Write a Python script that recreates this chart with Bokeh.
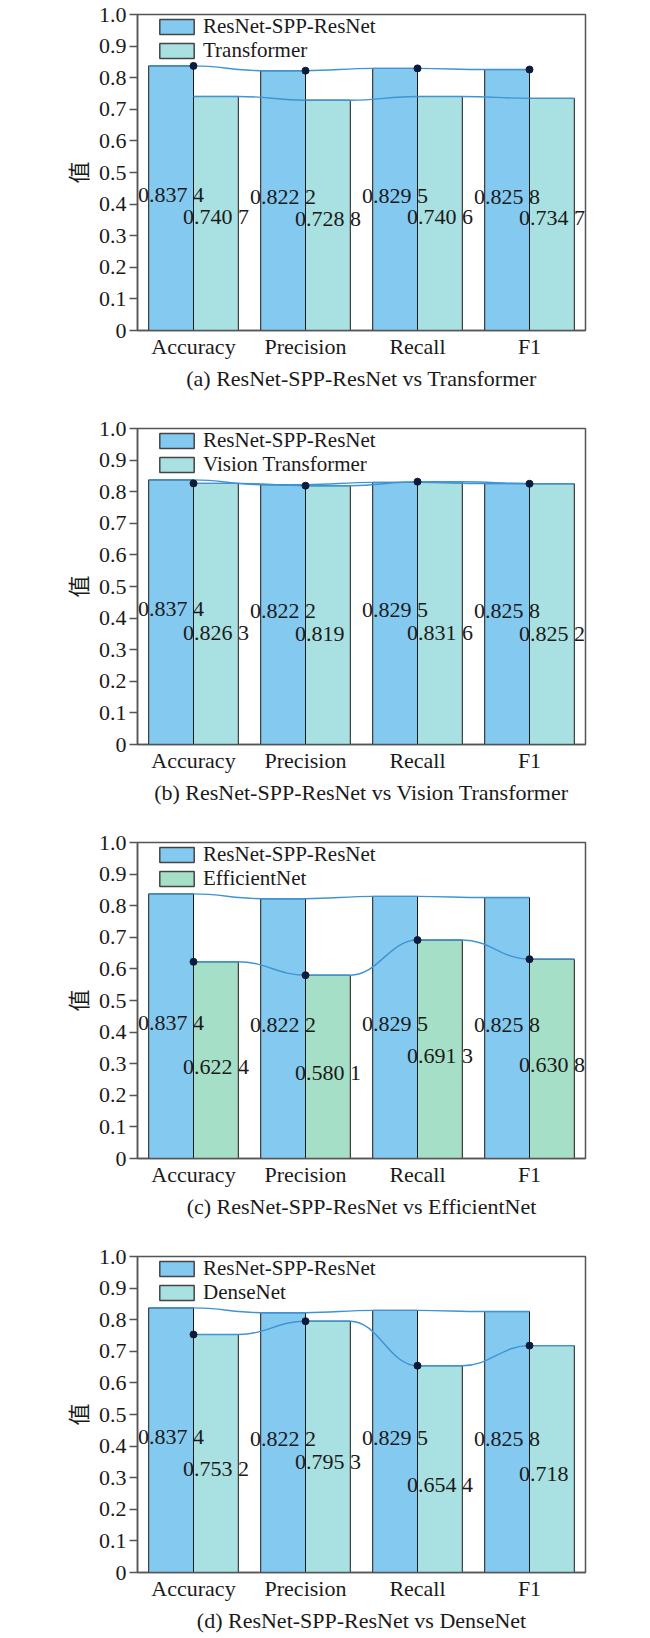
from bokeh.plotting import figure
from bokeh.layouts import column
from bokeh.models import (ColumnDataSource, FactorRange, Range1d, FixedTicker,
                          CustomJSTickFormatter, Legend, LegendItem)
from bokeh.transform import dodge
from bokeh.core.properties import value
from bokeh.embed import file_html
from bokeh.resources import INLINE

# ---------------- data ----------------
categories = ["Accuracy", "Precision", "Recall", "F1"]
y_ticks = [0, 0.1, 0.2, 0.3, 0.4, 0.5, 0.6, 0.7, 0.8, 0.9, 1.0]

ours_name = "ResNet-SPP-ResNet"
ours = [0.8374, 0.8222, 0.8295, 0.8258]

transformer = [0.7407, 0.7288, 0.7406, 0.7347]
vision_transformer = [0.8263, 0.819, 0.8316, 0.8252]
efficientnet = [0.6224, 0.5801, 0.6913, 0.6308]
densenet = [0.7532, 0.7953, 0.6544, 0.718]

other_names = ["Transformer", "Vision Transformer", "EfficientNet", "DenseNet"]
other_values = [transformer, vision_transformer, efficientnet, densenet]
captions = ["(a) ResNet-SPP-ResNet vs Transformer",
            "(b) ResNet-SPP-ResNet vs Vision Transformer",
            "(c) ResNet-SPP-ResNet vs EfficientNet",
            "(d) ResNet-SPP-ResNet vs DenseNet"]

# ---------------- style ----------------
FONT = "Liberation Serif"
FS = "22px"
LEG_FS = "21px"
TXT = "#1a1a1a"
BLUE = "#84c9ef"
OTHER_COLORS = ["#a9e0e2", "#a9e0e2", "#a6dfc7", "#a9e0e2"]
LINE = "#3f94d3"
DOT = "#0d1b3a"
FRAME = "#555555"
dots_on_other = [False, True, True, True]
label2_yoff = [3, 19, 6, 15]
tops = [14, 14, 14, 14]
bottoms = [84, 84, 84, 66]
FRAME_H = 316
BAR_W = 0.4


def fmt(v):
    s = f"{v:.4f}".rstrip("0")
    if len(s) > 5:
        s = s[:5] + " " + s[5:]
    return s


def curve_segments(xs, ys):
    x0, y0, x1, y1, cx0, cy0, cx1, cy1 = [], [], [], [], [], [], [], []
    for i in range(len(xs) - 1):
        a, b = xs[i], xs[i + 1]
        d = (b - a) * 0.42
        x0.append(a); y0.append(ys[i]); x1.append(b); y1.append(ys[i + 1])
        cx0.append(a + d); cy0.append(ys[i]); cx1.append(b - d); cy1.append(ys[i + 1])
    return dict(x0=x0, y0=y0, x1=x1, y1=y1, cx0=cx0, cy0=cy0, cx1=cx1, cy1=cy1)


def legend_box(label, renderer, bottom_from_frame_bottom):
    return Legend(items=[LegendItem(label=label, renderers=[renderer])],
                  location=(18, bottom_from_frame_bottom), orientation="vertical",
                  glyph_width=43, glyph_height=19, label_standoff=5, spacing=0,
                  padding=0, margin=0, label_height=18,
                  label_text_font=FONT, label_text_font_size=LEG_FS, label_text_color=TXT,
                  background_fill_alpha=0, border_line_alpha=0)


figs = []
for k in range(4):
    vals2 = other_values[k]
    col2 = OTHER_COLORS[k]
    h = tops[k] + FRAME_H + bottoms[k]
    p = figure(width=650, height=h,
               x_range=FactorRange(*categories, range_padding=0, factor_padding=0),
               y_range=Range1d(0, 1.0),
               title=captions[k], title_location="below",
               output_backend="svg", toolbar_location=None,
               min_border_left=137, min_border_right=65,
               min_border_top=tops[k], min_border_bottom=bottoms[k])
    p.title.align = "center"
    p.title.text_font = FONT
    p.title.text_font_size = FS
    p.title.text_font_style = "normal"
    p.title.text_color = TXT
    p.title.standoff = 5

    p.xgrid.visible = False
    p.ygrid.visible = False
    p.outline_line_color = FRAME
    p.outline_line_width = 1.5
    p.background_fill_color = "white"
    p.border_fill_color = "white"

    src = ColumnDataSource(dict(
        cat=categories, v1=ours, v2=vals2,
        h1=[v / 2 for v in ours], h2=[v / 2 for v in vals2],
        l1=[fmt(v) for v in ours], l2=[fmt(v) for v in vals2]))

    p.vbar(x=dodge("cat", -BAR_W / 2, range=p.x_range), top="v1", width=BAR_W,
           source=src, fill_color=BLUE, line_color="#1a1a1a", line_width=1)
    p.vbar(x=dodge("cat", BAR_W / 2, range=p.x_range), top="v2", width=BAR_W,
           source=src, fill_color=col2, line_color="#1a1a1a", line_width=1)

    # smooth lines through bar tops (category index -> synthetic coordinate)
    xs1, ys1, xs2, ys2 = [], [], [], []
    for i, c in enumerate(categories):
        center = i + 0.5
        xs1 += [center - BAR_W, center]; ys1 += [ours[i], ours[i]]
        xs2 += [center, center + BAR_W]; ys2 += [vals2[i], vals2[i]]
    p.bezier(source=ColumnDataSource(curve_segments(xs1, ys1)),
             x0="x0", y0="y0", x1="x1", y1="y1", cx0="cx0", cy0="cy0",
             cx1="cx1", cy1="cy1", line_color=LINE, line_width=1.4)
    p.bezier(source=ColumnDataSource(curve_segments(xs2, ys2)),
             x0="x0", y0="y0", x1="x1", y1="y1", cx0="cx0", cy0="cy0",
             cx1="cx1", cy1="cy1", line_color=LINE, line_width=1.4)
    p.scatter(x="cat", y="v2" if dots_on_other[k] else "v1", source=src,
              size=7, fill_color=DOT, line_color=DOT)

    # value labels
    p.text(x=dodge("cat", -BAR_W / 2, range=p.x_range), y="h1", text="l1", source=src,
           text_font=value(FONT), text_font_size=FS, text_color=TXT,
           text_align="left", text_baseline="middle", x_offset=-33, y_offset=-4)
    p.text(x=dodge("cat", BAR_W / 2, range=p.x_range), y="h2", text="l2", source=src,
           text_font=value(FONT), text_font_size=FS, text_color=TXT,
           text_align="left", text_baseline="middle", x_offset=-33,
           y_offset=label2_yoff[k])

    # legend swatches (hidden proxy renderers)
    r1 = p.vbar(x=[categories[0]], top=[0], width=BAR_W, fill_color=BLUE,
                line_color="#444444", line_width=1.5, visible=False)
    r2 = p.vbar(x=[categories[0]], top=[0], width=BAR_W, fill_color=col2,
                line_color="#444444", line_width=1.5, visible=False)
    p.add_layout(legend_box(ours_name, r1, FRAME_H - 25))
    p.add_layout(legend_box(other_names[k], r2, FRAME_H - 49))

    # axes
    ya = p.yaxis[0]
    ya.ticker = FixedTicker(ticks=y_ticks)
    ya.formatter = CustomJSTickFormatter(code="return tick == 0 ? '0' : tick.toFixed(1);")
    ya.minor_tick_line_color = None
    ya.major_tick_out = 8
    ya.major_tick_in = 0
    ya.major_tick_line_color = FRAME
    ya.major_tick_line_width = 1.5
    ya.axis_line_color = FRAME
    ya.axis_line_width = 1.5
    ya.major_label_standoff = 3
    ya.major_label_text_font = FONT
    ya.major_label_text_font_size = FS
    ya.major_label_text_color = TXT
    ya.axis_label = "值"
    ya.axis_label_text_font = "Noto Sans CJK SC"
    ya.axis_label_text_font_size = FS
    ya.axis_label_text_font_style = "normal"
    ya.axis_label_text_color = TXT
    ya.axis_label_standoff = 3

    xa = p.xaxis[0]
    xa.major_tick_line_color = None
    xa.major_tick_out = 0
    xa.major_tick_in = 0
    xa.minor_tick_line_color = None
    xa.minor_tick_out = 0
    xa.axis_line_color = FRAME
    xa.axis_line_width = 1.5
    xa.major_label_standoff = 3
    xa.major_label_text_font = FONT
    xa.major_label_text_font_size = FS
    xa.major_label_text_color = TXT

    figs.append(p)

layout = column(*figs, spacing=0)
open("out.html", "w").write(file_html(layout, INLINE))
